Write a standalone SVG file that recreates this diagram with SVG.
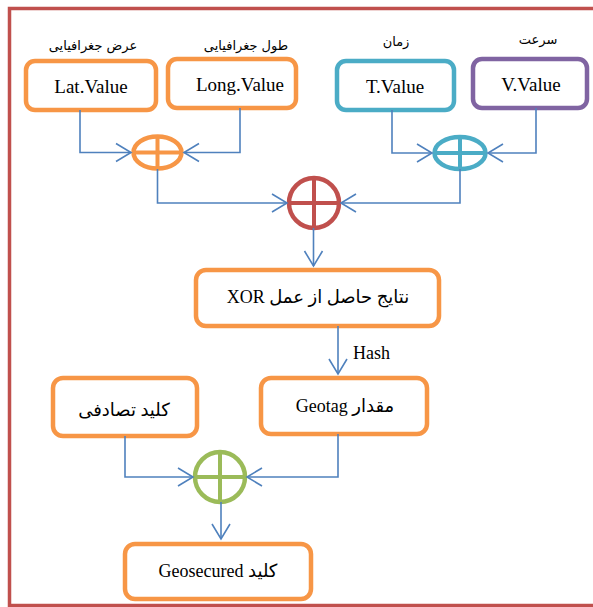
<svg xmlns="http://www.w3.org/2000/svg" width="593" height="607" viewBox="0 0 593 607">
<defs>
<style>
.box{fill:#fff;stroke-width:4.5}
.o{stroke:#F79646}
.c{stroke:#4BACC6}
.p{stroke:#8064A2}
.op{fill:none;stroke-width:4.5}
.lt{font-family:"Liberation Serif","DejaVu Sans",serif;font-size:19px;fill:#000;text-anchor:middle}
.ar{font-family:"DejaVu Sans","Liberation Serif",sans-serif;font-size:13px;fill:#000;text-anchor:middle}
.mx{font-family:"Liberation Serif","DejaVu Sans",serif;font-size:18px;fill:#000;text-anchor:middle}
.conn path{fill:none;stroke:#4F81BD;stroke-width:1.6;marker-end:url(#arr)}
</style>
<marker id="arr" markerUnits="userSpaceOnUse" markerWidth="40" markerHeight="40" viewBox="-20 -20 40 40" refX="0" refY="0" orient="auto">
<path d="M-15,-9 L0,0 L-15,9" fill="none" stroke="#4F81BD" stroke-width="1.6"/>
</marker>
</defs>
<rect x="0" y="0" width="593" height="607" fill="#fff"/>
<rect x="9.5" y="8.5" width="600" height="597" fill="none" stroke="#C0504D" stroke-width="3.5"/>

<g id="labels">
<text class="ar" x="93" y="50">عرض جغرافیایی</text>
<text class="ar" x="246" y="50">طول جغرافیایی</text>
<text class="ar" x="396" y="46">زمان</text>
<text class="ar" x="538" y="44">سرعت</text>
</g>

<g id="lat"><rect class="box o" x="26" y="61" width="130" height="49" rx="9"/><text class="lt" x="91" y="93">Lat.Value</text></g>
<g id="long"><rect class="box o" x="168" y="59" width="128" height="49" rx="9"/><text class="lt" x="240" y="91">Long.Value</text></g>
<g id="time"><rect class="box c" x="337" y="61" width="117" height="49" rx="9"/><text class="lt" x="395" y="93">T.Value</text></g>
<g id="speed"><rect class="box p" x="473" y="59" width="114" height="49" rx="9"/><text class="lt" x="531" y="91">V.Value</text></g>

<g id="xor1"><ellipse class="op" cx="157.5" cy="152.5" rx="24" ry="16" stroke="#F79646"/><path d="M133.5 152.5 H181.5 M157.5 136.5 V168.5" stroke="#F79646" stroke-width="4"/></g>
<g id="xor2"><ellipse class="op" cx="460" cy="153" rx="25.5" ry="16" stroke="#4BACC6"/><path d="M434.5 153 H485.5 M460 137 V169" stroke="#4BACC6" stroke-width="4"/></g>
<g id="xor3"><circle class="op" cx="314" cy="203" r="25" stroke="#C0504D"/><path d="M289 203 H339 M314 178 V228" stroke="#C0504D" stroke-width="4"/></g>

<g id="result"><rect class="box o" x="196" y="270" width="243" height="56" rx="10"/><text class="mx" x="318" y="303" direction="rtl">نتایج حاصل از عمل  XOR</text></g>
<g id="hashlabel"><text class="mx" x="353" y="359" style="text-anchor:start;font-size:18px">Hash</text></g>

<g id="randkey"><rect class="box o" x="53" y="378" width="144" height="58" rx="10"/><text class="mx" x="124" y="416" direction="rtl">کلید تصادفی</text></g>
<g id="geotag"><rect class="box o" x="261" y="378" width="166" height="56" rx="10"/><text class="mx" x="345" y="412" direction="rtl">مقدار Geotag</text></g>

<g id="xor4"><circle class="op" cx="220" cy="477" r="25" stroke="#9BBB59"/><path d="M195 477 H245 M220 452 V502" stroke="#9BBB59" stroke-width="4"/></g>

<g id="geosecured"><rect class="box o" x="125" y="544" width="186" height="55" rx="10"/><text class="mx" x="218" y="577" direction="rtl">کلید Geosecured</text></g>

<g class="conn" id="connectors">
<path d="M80 110 V152.5 H131"/>
<path d="M240 108 V152.5 H184"/>
<path d="M392 110 V153 H432"/>
<path d="M536 108 V153 H488"/>
<path d="M157.5 169 V203 H287"/>
<path d="M460 169 V203 H341"/>
<path d="M313.5 228 V266"/>
<path d="M338 326 V374"/>
<path d="M125 436 V477 H193"/>
<path d="M338 434 V477 H247"/>
<path d="M221 502 V539"/>
</g>
</svg>
